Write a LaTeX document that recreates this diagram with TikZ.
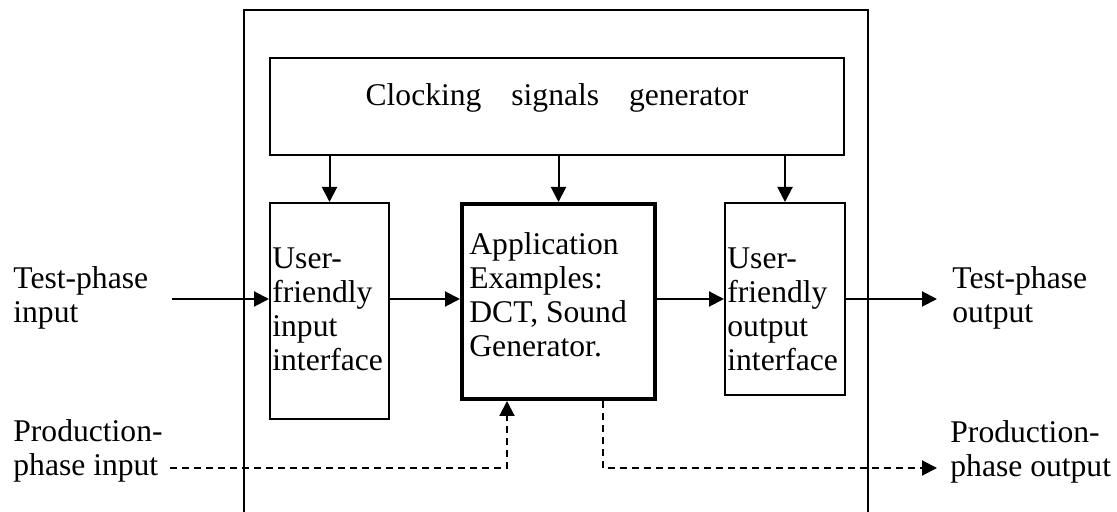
\documentclass[tikz,border=0pt]{standalone}
\usepackage{fontspec}
\setmainfont{Liberation Serif}
\usepackage{tikz}
\usetikzlibrary{arrows.meta,positioning}

\begin{document}
\begin{tikzpicture}[x=0.5pt, y=-0.5pt,
		block/.style={draw, line width=1pt, inner sep=0pt, anchor=north west},
		txt/.style={align=left, inner sep=0pt},
		lbl/.style={anchor=west, align=left, inner sep=0pt},
		dsh/.style={line width=1pt, dash pattern=on 3.5pt off 2.5pt},
		>={Triangle[length=7.5pt,width=7.5pt]}, font=\fontsize{15.8}{17}\selectfont]
	\useasboundingbox (0,0) rectangle (1117,512);
	\draw[line width=1pt] (244,512) -- (244,10) -- (868,10) -- (868,512);
	\node[block, minimum width=287pt, minimum height=48.5pt] (clock) at (269,57) {};
	\node[block, minimum width=59.5pt, minimum height=108pt] (inp) at (269,202) {};
	\node[block, line width=2pt, minimum width=96.5pt, minimum height=97.5pt] (app) at (460,202) {};
	\node[block, minimum width=60pt, minimum height=96pt] (out) at (724,202) {};
	\node[txt] (clocktxt) at ([yshift=4.25pt]clock.center)
		{Clocking\hspace{11pt} signals\hspace{11pt} generator};
	\node[txt, anchor=west] (inptxt) at ([xshift=1.5pt, yshift=1pt]inp.west)
		{User-\\friendly\\input\\interface};
	\node[txt, anchor=west] (apptxt) at ([xshift=4.5pt, yshift=3.25pt]app.west)
		{Application\\Examples:\\DCT, Sound\\Generator.};
	\node[txt, anchor=west] (outtxt) at ([xshift=1.5pt, yshift=-5pt]out.west)
		{User-\\friendly\\output\\interface};
	\foreach \n in {inp,app,out}
		\draw[line width=1pt, ->] (\n.north |- clock.south) -- (\n.north);
	\node[lbl] (tpin) at (13,298) {Test-phase\\input};
	\node[lbl] (tpout) at (952,298) {Test-phase\\output};
	\node[lbl] (ppin) at (13,451) {Production-\\phase input};
	\node[lbl] (ppout) at (950,452) {Production-\\phase output};
	\coordinate (tpa) at (172,299);
	\coordinate (tpb) at (937,299);
	\coordinate (ppa) at (170,468);
	\coordinate (ppb) at (937,468);
	\coordinate (upx) at (507,468);
	\coordinate (dnx) at (603,468);
	\draw[line width=1pt, ->] (tpa) -- (inp.west |- tpa);
	\draw[line width=1pt, ->] (inp.east |- tpa) -- (app.west |- tpa);
	\draw[line width=1pt, ->] (app.east |- tpa) -- (out.west |- tpa);
	\draw[line width=1pt, ->] (out.east |- tpa) -- (tpb);
	\draw[dsh, ->] (ppa) -- (upx) -- (upx |- app.south);
	\draw[dsh, ->] (dnx |- app.south) -- (dnx) -- (ppb);
\end{tikzpicture}
\end{document}
